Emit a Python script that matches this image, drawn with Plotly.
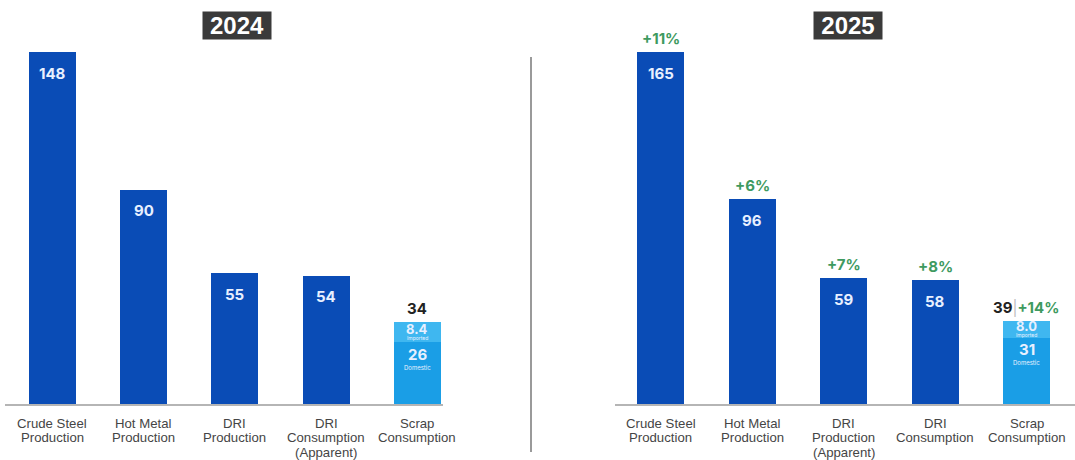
import plotly.graph_objects as go

# Categories for each year panel
cats_2024 = ["Crude Steel<br>Production", "Hot Metal<br>Production", "DRI<br>Production",
             "DRI<br>Consumption<br>(Apparent)", "Scrap<br>Consumption"]
cats_2025 = ["Crude Steel<br>Production", "Hot Metal<br>Production", "DRI<br>Production<br>(Apparent)",
             "DRI<br>Consumption", "Scrap<br>Consumption"]

# Production / consumption volumes (first four categories)
vals_2024 = [148, 90, 55, 54]
vals_2025 = [165, 96, 59, 58]

# Scrap consumption split
scrap_total_2024 = 34
scrap_domestic_2024 = 26
scrap_imported_2024 = 8.4
scrap_total_2025 = 39
scrap_domestic_2025 = 31
scrap_imported_2025 = 8.0

# Year-on-year growth labels for 2025
growth_2025 = ["+11%", "+6%", "+7%", "+8%"]
growth_scrap_2025 = "+14%"

W, H = 1075, 460
DARK_BLUE = "#0a4cb6"
DOMESTIC = "#1a9ee6"
IMPORTED = "#3fb7f0"
GREEN = "#3e9a60"
INSIDE_TXT = "#e8f0ff"
NUM_FONT = "Inter"
LBL_FONT = "Liberation Sans"
BAR_W = 0.515

fig = go.Figure()


def add_panel(cats, vals, dom, imp, xa, ya):
    fig.add_trace(go.Bar(
        x=cats[:4], y=vals, marker=dict(color=DARK_BLUE, line=dict(width=0)),
        width=BAR_W, xaxis=xa, yaxis=ya, showlegend=False, hoverinfo="skip"))
    fig.add_trace(go.Bar(
        x=[cats[4]], y=[dom], marker=dict(color=DOMESTIC, line=dict(width=0)),
        width=BAR_W, xaxis=xa, yaxis=ya, showlegend=False, hoverinfo="skip"))
    fig.add_trace(go.Bar(
        x=[cats[4]], y=[imp], base=[dom], marker=dict(color=IMPORTED, line=dict(width=0)),
        width=BAR_W, xaxis=xa, yaxis=ya, showlegend=False, hoverinfo="skip"))

    # value labels near the top of each dark bar
    for c, v in zip(cats[:4], vals):
        fig.add_annotation(x=c, y=v, xref=xa, yref=ya, yanchor="middle", yshift=-21,
                           showarrow=False, text=f"<b>{v}</b>",
                           font=dict(family=NUM_FONT, size=15, color=INSIDE_TXT))

    # segment labels inside the scrap bar
    fig.add_annotation(x=cats[4], y=dom, xref=xa, yref=ya, yanchor="middle", yshift=-12,
                       showarrow=False, text=f"<b>{dom:g}</b>",
                       font=dict(family=NUM_FONT, size=15, color=INSIDE_TXT))
    fig.add_annotation(x=cats[4], y=dom, xref=xa, yref=ya, yanchor="middle", yshift=-25,
                       showarrow=False, text="Domestic",
                       font=dict(family=NUM_FONT, size=6, color=INSIDE_TXT))
    fig.add_annotation(x=cats[4], y=dom + imp / 2, xref=xa, yref=ya, yanchor="middle", yshift=3,
                       showarrow=False, text=f"<b>{imp:.1f}</b>",
                       font=dict(family=NUM_FONT, size=13, color=INSIDE_TXT))
    fig.add_annotation(x=cats[4], y=dom + imp / 2, xref=xa, yref=ya, yanchor="middle", yshift=-6,
                       showarrow=False, text="Imported",
                       font=dict(family=NUM_FONT, size=5, color=INSIDE_TXT))

    # category labels, one line at a time below the axis
    for c in cats:
        for k, line in enumerate(c.split("<br>")):
            fig.add_annotation(x=c, xref=xa, y=1 - (423.5 + 14.3 * k) / H, yref="paper",
                               yanchor="middle", showarrow=False, text=line,
                               font=dict(family=LBL_FONT, size=13.2, color="#454545"))


add_panel(cats_2024, vals_2024, scrap_domestic_2024, scrap_imported_2024, "x", "y")
add_panel(cats_2025, vals_2025, scrap_domestic_2025, scrap_imported_2025, "x2", "y2")

# Totals above the scrap bars
fig.add_annotation(x=cats_2024[4], y=scrap_domestic_2024 + scrap_imported_2024, xref="x", yref="y",
                   yanchor="bottom", yshift=2, showarrow=False, text=f"<b>{scrap_total_2024}</b>",
                   font=dict(family=NUM_FONT, size=15, color="#222222"))
fig.add_annotation(x=cats_2025[4], y=scrap_domestic_2025 + scrap_imported_2025, xref="x2", yref="y2",
                   yanchor="bottom", yshift=2, xshift=-1, showarrow=False,
                   text=(f"<b>{scrap_total_2025}</b><span style='color:#bdbdbd'>|</span>"
                         f"<span style='color:{GREEN}'><b>{growth_scrap_2025}</b></span>"),
                   font=dict(family=NUM_FONT, size=15, color="#222222"))

# Growth labels above the 2025 bars
for c, v, g in zip(cats_2025[:4], vals_2025, growth_2025):
    fig.add_annotation(x=c, y=v, xref="x2", yref="y2", yanchor="middle", yshift=14,
                       showarrow=False, text=f"<b>{g}</b>",
                       font=dict(family=NUM_FONT, size=15, color=GREEN))

# Year headers
for label, xc in [("2024", 237), ("2025", 848)]:
    fig.add_annotation(x=xc / W, y=1 - 25.5 / H, xref="paper", yref="paper",
                       xanchor="center", yanchor="middle", showarrow=False,
                       text=f"<b>{label}</b>", bgcolor="#3a3a3a", borderpad=0,
                       width=68, height=27,
                       font=dict(family="Liberation Sans", size=24, color="#ffffff"))

# Divider between panels
fig.add_shape(type="line", xref="paper", yref="paper", x0=531 / W, x1=531 / W,
              y0=1 - 452 / H, y1=1 - 57 / H, line=dict(color="#9a9a9a", width=2))

ydom = [1 - 404 / H, 1 - 52 / H]
axis_common = dict(type="category", showgrid=False, zeroline=False, showline=True,
                   linecolor="#b5b5b5", linewidth=2, showticklabels=False, ticks="")
fig.update_layout(
    width=W, height=H, margin=dict(l=0, r=0, t=0, b=0, autoexpand=False),
    paper_bgcolor="white", plot_bgcolor="white", barmode="stack", bargap=0,
    xaxis=dict(domain=[5 / W, 443 / W], range=[-0.52, 4.28], anchor="y", **axis_common),
    xaxis2=dict(domain=[615 / W, 1.0], range=[-0.5, 4.53], anchor="y2", **axis_common),
    yaxis=dict(domain=ydom, range=[0, 148], visible=False, anchor="x"),
    yaxis2=dict(domain=ydom, range=[0, 165], visible=False, anchor="x2"),
)

fig.write_html(
    "out.html",
    config={"responsive": False, "displayModeBar": False},
    post_script=("document.documentElement.style.overflow='hidden';"
                 "document.body.style.margin='0';document.body.style.overflow='hidden';"),
)
